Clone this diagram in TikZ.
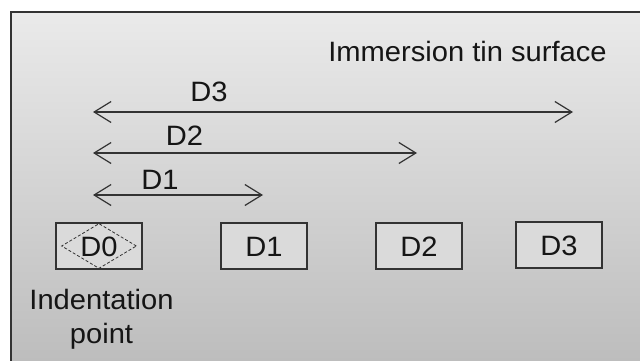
\documentclass[tikz,border=0pt]{standalone}
\usepackage{fontspec}
\setmainfont{Liberation Sans}[FakeStretch=1.04]
\usetikzlibrary{arrows.meta,shapes.geometric}
\definecolor{ink}{HTML}{151515}
\definecolor{edge}{HTML}{333333}
\definecolor{panelTop}{HTML}{EAEAEA}
\definecolor{panelBottom}{HTML}{BDBDBD}
\definecolor{boxfill}{HTML}{DADADA}
\tikzset{
  frame/.style={draw=edge, line width=1.8pt},
  pointbox/.style={draw=edge, fill=boxfill, line width=1.1pt, minimum width=86pt,
    minimum height=46pt, inner sep=0pt, text height=20pt, text depth=0pt, text=ink},
  indent/.style={draw=edge, dash pattern=on 3pt off 2pt, line width=0.8pt, diamond,
    minimum width=75pt, minimum height=45pt, inner sep=0pt},
  dim/.style={draw=edge, line width=1.2pt,
    {Straight Barb[length=17pt,width=21pt]}-{Straight Barb[length=17pt,width=21pt]}},
  lbl/.style={anchor=base, text=ink, inner sep=0pt}
}
\begin{document}
\begin{tikzpicture}[x=1pt, y=-1pt, font=\fontsize{28}{34}\selectfont]
\useasboundingbox (0,0) rectangle (640,361);
% background panel with gradient
\shade[top color=panelTop, bottom color=panelBottom] (11,12) rectangle (640,361);
\draw[frame] (11,363) -- (11,12) -- (642,12);

% title
\node[lbl] (title) at (467.5,62) {Immersion tin surface};

% measurement arrows from the indentation point
\coordinate (a3l) at (93,112);  \coordinate (a3r) at (573,112);
\coordinate (a2l) at (93,153);  \coordinate (a2r) at (417,153);
\coordinate (a1l) at (93,195);  \coordinate (a1r) at (263,195);
\draw[dim] (a3l) -- (a3r);
\draw[dim] (a2l) -- (a2r);
\draw[dim] (a1l) -- (a1r);
\node[lbl] (l3) at (209,102) {D3};
\node[lbl] (l2) at (184.5,145) {D2};
\node[lbl] (l1) at (160,189) {D1};

% measurement points
\node[pointbox] (d0) at (99,246) {};
\node[indent] (dia) at (d0.center) {};
\node[text=ink, inner sep=0pt, text height=20pt, text depth=0pt] (d0t) at (d0.center) {D0};
\node[pointbox] (d1) at (264,246) {D1};
\node[pointbox] (d2) at (419,246) {D2};
\node[pointbox] (d3) at (559,245) {D3};

% caption of the indentation point
\node[lbl] (cap1) at (101.5,309) {Indentation};
\node[lbl] (cap2) at (101.5,343) {point};
\end{tikzpicture}
\end{document}
